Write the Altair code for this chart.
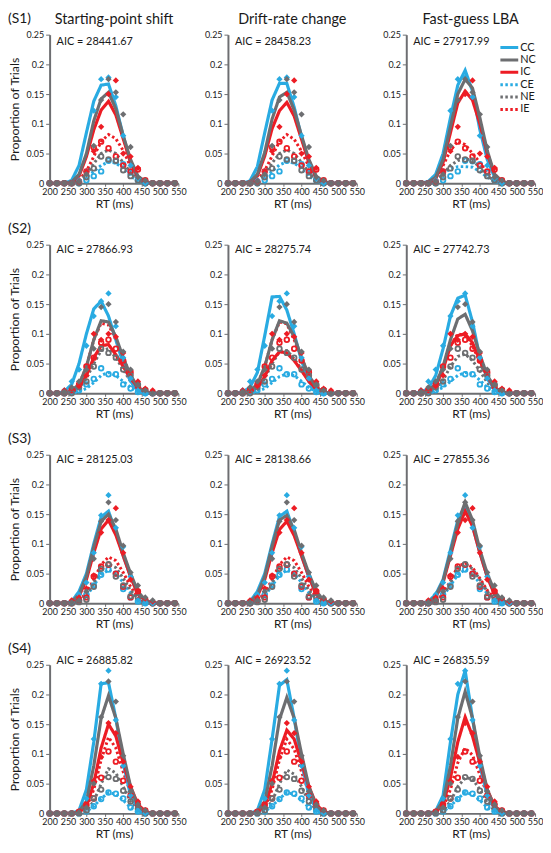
import altair as alt
import pandas as pd

RT = [200, 220, 240, 260, 280, 300, 320, 340, 360, 380, 400, 420, 440, 460, 480, 500, 520, 540]
SERIES = ["CC", "NC", "IC", "CE", "NE", "IE"]
COLORS = ["#29ABE2", "#6D6E71", "#ED1C24", "#29ABE2", "#6D6E71", "#ED1C24"]
DASHES = [[1, 0], [1, 0], [1, 0], [2.5, 2.5], [2.5, 2.5], [2.5, 2.5]]
SUBJECTS = ["S1", "S2", "S3", "S4"]
MODELS = ["Starting-point shift", "Drift-rate change", "Fast-guess LBA"]
MODEL_KEYS = ["SP", "DR", "FG"]

AIC_S1 = [28441.67, 28458.23, 27917.99]
AIC_S2 = [27866.93, 28275.74, 27742.73]
AIC_S3 = [28125.03, 28138.66, 27855.36]
AIC_S4 = [26885.82, 26923.52, 26835.59]

# ---------------- observed proportions (markers) ----------------
S1_CC = [0, 0, 0, 0, .005, .02, .122, .175, .178, .145, .08, .03, .008, 0, 0, 0, 0, 0]
S1_NC = [0, 0, 0, 0, .003, .015, .063, .14, .175, .153, .116, .061, .01, .005, 0, 0, 0, 0]
S1_IC = [0, 0, 0, 0, .003, .02, .054, .095, .15, .173, .05, .045, .026, .005, 0, 0, 0, 0]
S1_CE = [0, 0, 0, 0, 0, .005, .012, .02, .038, .037, .032, .018, .005, 0, 0, 0, 0, 0]
S1_NE = [0, 0, 0, 0, 0, .01, .025, .045, .04, .038, .022, .012, .005, 0, 0, 0, 0, 0]
S1_IE = [0, 0, 0, 0, .003, .02, .06, .07, .059, .045, .03, .02, .023, .005, 0, 0, 0, 0]

S2_CC = [0, 0, .005, .02, .04, .08, .13, .155, .168, .113, .06, .025, .005, 0, 0, 0, 0, 0]
S2_NC = [0, 0, .003, .01, .02, .04, .075, .145, .15, .12, .07, .04, .015, .005, 0, 0, 0, 0]
S2_IC = [0, 0, .005, .008, .012, .03, .1, .09, .1, .095, .068, .038, .02, .008, .005, 0, 0, 0]
S2_CE = [0, 0, 0, .002, .005, .015, .024, .042, .032, .032, .015, .008, .002, 0, 0, 0, 0, 0]
S2_NE = [0, 0, 0, 0, .01, .02, .045, .075, .068, .06, .04, .03, .015, .005, 0, 0, 0, 0]
S2_IE = [0, 0, 0, .005, .015, .045, .06, .085, .09, .075, .055, .035, .012, .005, 0, 0, 0, 0]

S3_CC = [0, 0, 0, .002, .015, .035, .085, .148, .182, .127, .095, .045, .005, .002, 0, 0, 0, 0]
S3_NC = [0, 0, 0, .002, .005, .02, .075, .138, .17, .14, .097, .052, .03, .01, .005, 0, 0, 0]
S3_IC = [0, 0, 0, .005, .01, .025, .047, .119, .14, .16, .085, .04, .022, .008, .003, 0, 0, 0]
S3_CE = [0, 0, 0, 0, .005, .015, .03, .048, .057, .05, .024, .01, .003, 0, 0, 0, 0, 0]
S3_NE = [0, 0, 0, 0, .002, .006, .028, .058, .066, .045, .03, .012, .01, .005, 0, 0, 0, 0]
S3_IE = [0, 0, 0, 0, .005, .01, .045, .062, .065, .05, .028, .01, .02, .005, 0, 0, 0, 0]

S4_CC = [0, 0, 0, 0, .002, .025, .125, .218, .24, .157, .08, .03, .005, 0, 0, 0, 0, 0]
S4_NC = [0, 0, 0, 0, .002, .01, .05, .162, .222, .188, .097, .037, .015, .005, 0, 0, 0, 0]
S4_IC = [0, 0, 0, 0, .003, .013, .055, .095, .152, .135, .087, .045, .02, .005, 0, 0, 0, 0]
S4_CE = [0, 0, 0, 0, 0, .003, .012, .024, .035, .033, .025, .01, .003, 0, 0, 0, 0, 0]
S4_NE = [0, 0, 0, 0, 0, .005, .025, .04, .061, .058, .038, .02, .008, 0, 0, 0, 0, 0]
S4_IE = [0, 0, 0, 0, .003, .015, .025, .06, .104, .087, .055, .03, .015, .005, 0, 0, 0, 0]

# ---------------- model predictions (lines) ----------------
S1_SP_CC = [0, 0, 0, .005, .03, .085, .138, .165, .167, .13, .08, .035, .01, .002, 0, 0, 0, 0]
S1_SP_NC = [0, 0, 0, .002, .015, .05, .105, .142, .153, .125, .08, .04, .012, .003, 0, 0, 0, 0]
S1_SP_IC = [0, 0, 0, .002, .012, .045, .09, .123, .138, .115, .075, .035, .01, .002, 0, 0, 0, 0]
S1_SP_CE = [0, 0, 0, 0, .003, .01, .02, .03, .036, .034, .025, .012, .004, 0, 0, 0, 0, 0]
S1_SP_NE = [0, 0, 0, 0, .004, .015, .033, .05, .056, .05, .035, .018, .005, 0, 0, 0, 0, 0]
S1_SP_IE = [0, 0, 0, 0, .005, .02, .045, .07, .082, .075, .055, .028, .009, .002, 0, 0, 0, 0]

S1_DR_CC = [0, 0, 0, .004, .028, .085, .14, .168, .168, .128, .078, .035, .01, .002, 0, 0, 0, 0]
S1_DR_NC = [0, 0, 0, .002, .015, .052, .108, .145, .153, .123, .08, .04, .012, .003, 0, 0, 0, 0]
S1_DR_IC = [0, 0, 0, .002, .012, .046, .092, .122, .136, .113, .074, .035, .01, .002, 0, 0, 0, 0]
S1_DR_CE = [0, 0, 0, 0, .003, .01, .02, .031, .036, .034, .025, .012, .004, 0, 0, 0, 0, 0]
S1_DR_NE = [0, 0, 0, 0, .004, .016, .034, .05, .056, .05, .035, .018, .005, 0, 0, 0, 0, 0]
S1_DR_IE = [0, 0, 0, 0, .005, .021, .046, .07, .082, .074, .054, .028, .009, .002, 0, 0, 0, 0]

S1_FG_CC = [0, 0, 0, .003, .015, .05, .11, .165, .19, .155, .09, .04, .01, .002, 0, 0, 0, 0]
S1_FG_NC = [0, 0, 0, .002, .01, .04, .095, .15, .175, .16, .11, .055, .015, .003, 0, 0, 0, 0]
S1_FG_IC = [0, 0, 0, .002, .008, .035, .085, .135, .155, .14, .1, .05, .015, .003, 0, 0, 0, 0]
S1_FG_CE = [0, 0, 0, 0, .005, .015, .025, .028, .028, .027, .02, .01, .003, 0, 0, 0, 0, 0]
S1_FG_NE = [0, 0, 0, 0, .005, .015, .03, .038, .042, .037, .028, .012, .004, 0, 0, 0, 0, 0]
S1_FG_IE = [0, 0, 0, .002, .01, .03, .055, .071, .065, .05, .035, .018, .005, 0, 0, 0, 0, 0]

S2_SP_CC = [0, 0, .003, .015, .05, .1, .142, .155, .13, .09, .05, .02, .005, 0, 0, 0, 0, 0]
S2_SP_NC = [0, 0, 0, .005, .015, .045, .09, .122, .12, .095, .06, .03, .01, .002, 0, 0, 0, 0]
S2_SP_IC = [0, 0, 0, .003, .01, .03, .06, .08, .082, .065, .045, .025, .01, .002, 0, 0, 0, 0]
S2_SP_CE = [0, 0, 0, 0, .003, .008, .018, .03, .035, .03, .02, .01, .003, 0, 0, 0, 0, 0]
S2_SP_NE = [0, 0, 0, .002, .008, .025, .05, .072, .075, .06, .04, .02, .006, 0, 0, 0, 0, 0]
S2_SP_IE = [0, 0, 0, .003, .015, .045, .09, .118, .115, .09, .06, .03, .01, .002, 0, 0, 0, 0]

S2_DR_CC = [0, 0, .002, .01, .035, .097, .162, .163, .14, .1, .055, .02, .005, 0, 0, 0, 0, 0]
S2_DR_NC = [0, 0, 0, .005, .015, .045, .09, .122, .118, .095, .06, .03, .01, .002, 0, 0, 0, 0]
S2_DR_IC = [0, 0, 0, .003, .01, .028, .055, .07, .068, .055, .038, .02, .007, .002, 0, 0, 0, 0]
S2_DR_CE = [0, 0, 0, 0, .003, .008, .018, .028, .033, .03, .02, .01, .003, 0, 0, 0, 0, 0]
S2_DR_NE = [0, 0, 0, .002, .008, .025, .05, .07, .072, .058, .04, .02, .006, 0, 0, 0, 0, 0]
S2_DR_IE = [0, 0, 0, .003, .015, .045, .09, .12, .117, .09, .06, .03, .01, .002, 0, 0, 0, 0]

S2_FG_CC = [0, 0, .002, .008, .03, .075, .13, .16, .165, .12, .06, .025, .006, 0, 0, 0, 0, 0]
S2_FG_NC = [0, 0, 0, .005, .015, .045, .09, .125, .133, .105, .065, .03, .01, .002, 0, 0, 0, 0]
S2_FG_IC = [0, 0, 0, .004, .012, .04, .08, .097, .1, .085, .055, .028, .009, .002, 0, 0, 0, 0]
S2_FG_CE = [0, 0, 0, 0, .003, .01, .02, .03, .035, .033, .022, .01, .003, 0, 0, 0, 0, 0]
S2_FG_NE = [0, 0, 0, .002, .008, .022, .045, .062, .066, .055, .038, .018, .006, 0, 0, 0, 0, 0]
S2_FG_IE = [0, 0, 0, .004, .015, .045, .08, .1, .097, .08, .052, .027, .009, .002, 0, 0, 0, 0]

S3_SP_CC = [0, 0, 0, .003, .02, .05, .1, .145, .155, .12, .08, .045, .015, .005, 0, 0, 0, 0]
S3_SP_NC = [0, 0, 0, .002, .015, .045, .095, .138, .15, .125, .085, .05, .02, .005, 0, 0, 0, 0]
S3_SP_IC = [0, 0, 0, .002, .012, .04, .085, .125, .14, .115, .08, .045, .015, .005, 0, 0, 0, 0]
S3_SP_CE = [0, 0, 0, 0, .003, .012, .03, .048, .056, .05, .035, .018, .006, 0, 0, 0, 0, 0]
S3_SP_NE = [0, 0, 0, 0, .004, .014, .035, .056, .066, .06, .042, .022, .008, 0, 0, 0, 0, 0]
S3_SP_IE = [0, 0, 0, 0, .005, .017, .04, .065, .078, .072, .052, .028, .01, .002, 0, 0, 0, 0]

S3_DR_CC = [0, 0, 0, .003, .02, .05, .1, .146, .155, .12, .08, .044, .015, .005, 0, 0, 0, 0]
S3_DR_NC = [0, 0, 0, .002, .015, .045, .096, .14, .148, .124, .085, .05, .02, .005, 0, 0, 0, 0]
S3_DR_IC = [0, 0, 0, .002, .012, .04, .085, .124, .138, .114, .08, .045, .015, .005, 0, 0, 0, 0]
S3_DR_CE = [0, 0, 0, 0, .003, .012, .03, .047, .056, .05, .035, .018, .006, 0, 0, 0, 0, 0]
S3_DR_NE = [0, 0, 0, 0, .004, .014, .035, .056, .066, .06, .042, .022, .008, 0, 0, 0, 0, 0]
S3_DR_IE = [0, 0, 0, 0, .005, .017, .04, .065, .078, .072, .052, .028, .01, .002, 0, 0, 0, 0]

S3_FG_CC = [0, 0, 0, .003, .015, .04, .09, .14, .165, .13, .085, .045, .015, .004, 0, 0, 0, 0]
S3_FG_NC = [0, 0, 0, .002, .012, .038, .085, .135, .17, .14, .09, .05, .02, .005, 0, 0, 0, 0]
S3_FG_IC = [0, 0, 0, .002, .01, .035, .08, .125, .155, .13, .085, .045, .015, .004, 0, 0, 0, 0]
S3_FG_CE = [0, 0, 0, 0, .003, .012, .03, .048, .057, .05, .033, .016, .005, 0, 0, 0, 0, 0]
S3_FG_NE = [0, 0, 0, 0, .004, .014, .035, .058, .066, .058, .04, .02, .007, 0, 0, 0, 0, 0]
S3_FG_IE = [0, 0, 0, 0, .005, .015, .038, .062, .068, .06, .042, .022, .008, .002, 0, 0, 0, 0]

S4_SP_CC = [0, 0, 0, 0, .005, .04, .12, .218, .22, .16, .085, .03, .008, 0, 0, 0, 0, 0]
S4_SP_NC = [0, 0, 0, 0, .003, .02, .08, .16, .198, .16, .1, .045, .012, .002, 0, 0, 0, 0]
S4_SP_IC = [0, 0, 0, 0, .002, .012, .05, .11, .15, .13, .085, .045, .015, .003, 0, 0, 0, 0]
S4_SP_CE = [0, 0, 0, 0, 0, .003, .012, .025, .035, .032, .022, .01, .003, 0, 0, 0, 0, 0]
S4_SP_NE = [0, 0, 0, 0, .001, .005, .02, .05, .075, .068, .045, .02, .006, 0, 0, 0, 0, 0]
S4_SP_IE = [0, 0, 0, 0, .002, .01, .04, .09, .128, .11, .07, .035, .01, .002, 0, 0, 0, 0]

S4_DR_CC = [0, 0, 0, 0, .005, .04, .125, .215, .225, .16, .085, .03, .008, 0, 0, 0, 0, 0]
S4_DR_NC = [0, 0, 0, 0, .003, .02, .08, .158, .195, .16, .1, .045, .012, .002, 0, 0, 0, 0]
S4_DR_IC = [0, 0, 0, 0, .002, .012, .05, .105, .14, .125, .085, .045, .015, .003, 0, 0, 0, 0]
S4_DR_CE = [0, 0, 0, 0, 0, .003, .012, .025, .035, .032, .022, .01, .003, 0, 0, 0, 0, 0]
S4_DR_NE = [0, 0, 0, 0, .001, .005, .02, .05, .073, .066, .045, .02, .006, 0, 0, 0, 0, 0]
S4_DR_IE = [0, 0, 0, 0, .002, .01, .04, .09, .125, .108, .07, .035, .01, .002, 0, 0, 0, 0]

S4_FG_CC = [0, 0, 0, 0, .004, .03, .12, .2, .24, .16, .08, .03, .008, 0, 0, 0, 0, 0]
S4_FG_NC = [0, 0, 0, 0, .003, .02, .08, .16, .205, .16, .095, .04, .01, .002, 0, 0, 0, 0]
S4_FG_IC = [0, 0, 0, 0, .002, .015, .06, .12, .162, .13, .085, .04, .012, .003, 0, 0, 0, 0]
S4_FG_CE = [0, 0, 0, 0, 0, .003, .012, .025, .035, .032, .022, .01, .003, 0, 0, 0, 0, 0]
S4_FG_NE = [0, 0, 0, 0, .001, .005, .02, .045, .06, .058, .04, .018, .005, 0, 0, 0, 0, 0]
S4_FG_IE = [0, 0, 0, 0, .002, .01, .04, .085, .11, .098, .065, .032, .01, .002, 0, 0, 0, 0]

G = globals()
AIC = {"S1": AIC_S1, "S2": AIC_S2, "S3": AIC_S3, "S4": AIC_S4}

FONT = "Lato"
GRAY = "#6D6E71"
TXT = "#1a1a1a"

W, H = 130, 150
COL_GAP, ROW_GAP = 50, 62
AIC_Y = [7, 5, 5, -4]


def panel_df(subj, mkey):
    rows = []
    # draw order: cyan, red, gray (gray on top, as in the figure)
    for s in ["CC", "IC", "NC", "CE", "IE", "NE"]:
        err = s.endswith("E")
        obs = G[f"{subj}_{s}"]
        fit = G[f"{subj}_{mkey}_{s}"]
        for rt, o, f in zip(RT, obs, fit):
            rows.append({"series": s, "rt": rt, "val": o, "kind": "obs", "err": err})
            rows.append({"series": s, "rt": rt, "val": f, "kind": "fit", "err": err})
    return pd.DataFrame(rows)


color_scale = alt.Scale(domain=SERIES, range=COLORS)
dash_scale = alt.Scale(domain=SERIES, range=DASHES)


def make_panel(si, mi):
    subj = SUBJECTS[si]
    df = panel_df(subj, MODEL_KEYS[mi])

    xs = alt.Scale(domain=[200, 550], nice=False, zero=False)
    ys = alt.Scale(domain=[0, 0.25], nice=False)
    xax = alt.Axis(
        values=list(range(200, 551, 50)), title="RT (ms)", grid=False,
        domainColor=GRAY, domainWidth=2, tickColor=GRAY, tickSize=3, tickWidth=1,
        labelFontSize=9, labelFont=FONT, labelColor=TXT, labelFlush=False,
        labelOverlap=False, labelPadding=1, titleFontSize=12, titleFont=FONT,
        titleFontWeight="normal", titleColor=TXT, titlePadding=2,
    )
    yax = alt.Axis(
        values=[0, 0.05, 0.1, 0.15, 0.2, 0.25], format="~g",
        title="Proportion of Trials" if mi == 0 else None, grid=False,
        domainColor=GRAY, domainWidth=2, tickColor=GRAY, tickSize=4, tickWidth=1,
        labelFontSize=9, labelFont=FONT, labelColor=TXT, labelFlush=False,
        labelPadding=2, titleFontSize=12.5, titleFont=FONT,
        titleFontWeight="normal", titleColor=TXT, titlePadding=5,
    )
    x = alt.X("rt:Q", scale=xs, axis=xax)
    y = alt.Y("val:Q", scale=ys, axis=yax)
    color = alt.Color("series:N", scale=color_scale, legend=None)
    dash = alt.StrokeDash("series:N", scale=dash_scale, legend=None)

    base = alt.Chart(df)
    fit_err = base.transform_filter("datum.kind == 'fit' && datum.err").mark_line(
        strokeWidth=3, strokeCap="butt").encode(x=x, y=y, color=color, strokeDash=dash)
    fit_cor = base.transform_filter("datum.kind == 'fit' && !datum.err").mark_line(
        strokeWidth=3.2).encode(x=x, y=y, color=color, strokeDash=dash)
    obs_err = base.transform_filter("datum.kind == 'obs' && datum.err").mark_point(
        shape="circle", filled=False, size=22, strokeWidth=1.8, opacity=1).encode(x=x, y=y, color=color)
    obs_cor = base.transform_filter("datum.kind == 'obs' && !datum.err").mark_point(
        shape="diamond", filled=True, size=40, opacity=1).encode(x=x, y=y, color=color)

    aic = alt.Chart(pd.DataFrame({"t": [f"AIC = {AIC[subj][mi]:.2f}"]})).mark_text(
        align="left", baseline="middle", fontSize=11, font=FONT, color=TXT
    ).encode(text="t:N", x=alt.value(7), y=alt.value(AIC_Y[si]))

    layers = [fit_err, fit_cor, obs_err, obs_cor, aic]
    if mi == 0:
        lab = alt.Chart(pd.DataFrame({"t": [f"({subj})"]})).mark_text(
            align="left", baseline="middle", fontSize=14, font=FONT, color=TXT
        ).encode(text="t:N", x=alt.value(-42), y=alt.value(-16))
        layers.append(lab)
    if si == 0:
        ttl = alt.Chart(pd.DataFrame({"t": [MODELS[mi]]})).mark_text(
            align="center", baseline="middle", fontSize=14.5, font=FONT, color=TXT
        ).encode(text="t:N", x=alt.value(W / 2), y=alt.value(-15))
        layers.append(ttl)
    if si == 0 and mi == 2:
        # legend drawn inside this panel (top-right), as in the figure
        leg_df = pd.DataFrame({"series": SERIES, "ly": [13 + 12.5 * i for i in range(len(SERIES))]})
        lb = alt.Chart(leg_df)
        leg_line = lb.mark_rule(strokeWidth=3, strokeCap="butt").encode(
            x=alt.value(95), x2=alt.value(113),
            y=alt.Y("ly:Q", scale=None, axis=None),
            color=color, strokeDash=dash)
        leg_text = lb.mark_text(align="left", baseline="middle", fontSize=11,
                                font=FONT, color=TXT).encode(
            x=alt.value(115), y=alt.Y("ly:Q", scale=None, axis=None), text="series:N")
        layers += [leg_line, leg_text]

    return alt.layer(*layers).properties(width=W, height=H)


panels = [make_panel(si, mi) for si in range(4) for mi in range(3)]

chart = alt.concat(
    *panels, columns=3, spacing={"row": ROW_GAP, "column": COL_GAP}, bounds="flush"
).properties(padding=0, background="white").configure_view(stroke=None)

chart.save("out.html", embed_options={"renderer": "svg", "actions": False})
